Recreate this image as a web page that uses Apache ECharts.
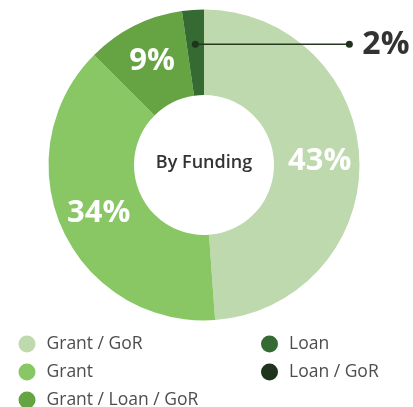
<!DOCTYPE html>
<html>
<head>
<meta charset="utf-8">
<style>
  html, body { margin: 0; padding: 0; background: #fff; }
  #chart { width: 413px; height: 407px; }
</style>
<script src="https://cdn.jsdelivr.net/npm/echarts@6/dist/echarts.min.js"></script>
</head>
<body>
<div id="chart"></div>
<script>
  // funding categories and their share (%)
  var names = ['Grant / GoR', 'Grant', 'Grant / Loan / GoR', 'Loan', 'Loan / GoR']
  var values = [43, 34, 9, 2, 0]
  var colors = ['#bdd9ad', '#88c764', '#66a343', '#356b33', '#1e341c']

  var center = [204, 165]
  var chart = echarts.init(document.getElementById('chart'))
  var anchor = null

  var legendText = {
    fontSize: 17.5,
    color: '#4d4d4d',
    fontFamily: 'Open Sans',
    padding: [0, 0, 0, 6]
  }

  var centerText = {
    type: 'text',
    x: center[0],
    y: center[1] - 2,
    style: {
      text: 'By Funding',
      textAlign: 'center',
      textVerticalAlign: 'middle',
      fontSize: 18,
      fontWeight: 600,
      fontFamily: 'Open Sans',
      fill: '#333'
    }
  }

  chart.setOption({
    animation: false,
    color: colors,
    textStyle: { fontFamily: 'Open Sans' },
    legend: [{
      data: names.slice(0, 3),
      orient: 'vertical',
      left: 18.5,
      top: 335,
      height: 100,
      padding: 0,
      icon: 'circle',
      itemWidth: 17,
      itemHeight: 17,
      itemGap: 10,
      selectedMode: false,
      textStyle: legendText
    }, {
      data: names.slice(3),
      orient: 'vertical',
      left: 261,
      top: 335,
      height: 100,
      padding: 0,
      icon: 'circle',
      itemWidth: 17,
      itemHeight: 17,
      itemGap: 10,
      selectedMode: false,
      textStyle: legendText
    }],
    series: [
      {
        type: 'pie',
        center: center,
        radius: [70, 155.5],
        startAngle: 90,
        silent: true,
        z: 2,
        label: {
          show: true,
          position: 'inside',
          color: '#fff',
          fontSize: 31,
          fontWeight: 'bold',
          fontFamily: 'Open Sans',
          formatter: '{c}%'
        },
        labelLine: { show: false },
        data: names.map(function(n, i) {
          return {
            name: n,
            value: values[i],
            label: { show: i < 3 }
          }
        })
      },
      {
        // invisible copy, only used to place the callout for the small slice
        type: 'pie',
        center: center,
        radius: [0, 121],
        startAngle: 90,
        silent: true,
        z: 5,
        itemStyle: { color: 'rgba(0,0,0,0)' },
        label: {
          show: false,
          position: 'outside',
          color: '#333',
          fontSize: 32,
          fontWeight: 'bold',
          fontFamily: 'Open Sans',
          formatter: '{c}%'
        },
        labelLine: {
          show: false,
          lineStyle: { color: '#25381f', width: 1.5 }
        },
        labelLayout: function(p) {
          if (p.dataIndex !== 3) return {}
          var s = p.labelLinePoints[0]
          var ex = s[0] + 154
          anchor = { s: [s[0], s[1]], e: [ex, s[1]] }
          return {
            x: ex + 13,
            y: s[1] + 1,
            align: 'left',
            verticalAlign: 'middle',
            labelLinePoints: [[s[0], s[1]], [ex, s[1]], [ex, s[1]]]
          }
        },
        data: names.map(function(n, i) {
          return {
            name: n,
            value: values[i],
            label: { show: i === 3 },
            labelLine: { show: i === 3 }
          }
        })
      }
    ],
    graphic: [centerText]
  })

  // dots at both ends of the callout line
  if (anchor) {
    chart.setOption({
      graphic: [centerText, {
        type: 'circle',
        shape: { cx: anchor.s[0], cy: anchor.s[1], r: 3.5 },
        style: { fill: '#1e341c' },
        z: 100
      }, {
        type: 'circle',
        shape: { cx: anchor.e[0], cy: anchor.e[1], r: 3.5 },
        style: { fill: '#1e341c' },
        z: 100
      }]
    })
  }
</script>
</body>
</html>
